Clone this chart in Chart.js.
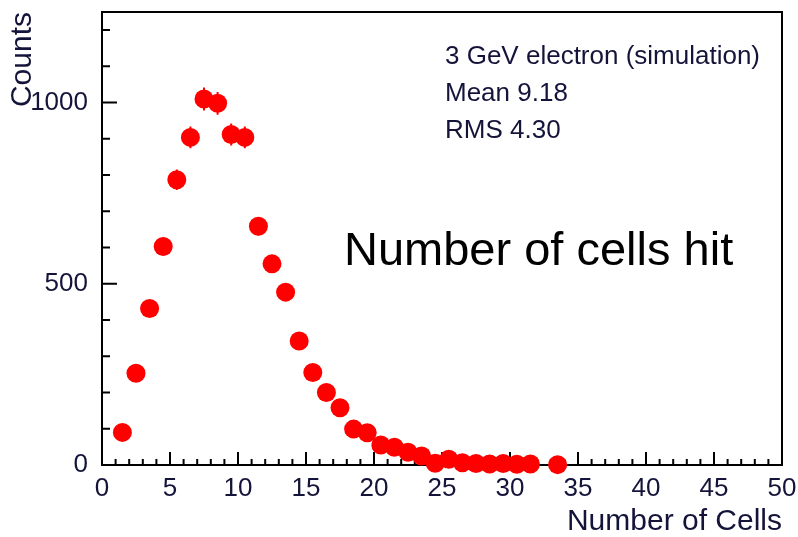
<!DOCTYPE html>
<html>
<head>
<meta charset="utf-8">
<script src="https://cdn.jsdelivr.net/npm/chart.js@4"></script>
<style>
    body { margin: 0; background: #fff; }
    #wrap { width: 798px; height: 537px; position: relative; }
</style>
</head>
<body>
<div id="wrap"><canvas id="cellsChart"></canvas></div>
<script>
// bin centres (number of cells hit) and counts per bin; empty bins are not drawn
const binCenters = [1.5, 2.5, 3.5, 4.5, 5.5, 6.5, 7.5, 8.5, 9.5, 10.5,
    11.5, 12.5, 13.5, 14.5, 15.5, 16.5, 17.5, 18.5, 19.5, 20.5,
    21.5, 22.5, 23.5, 24.5, 25.5, 26.5, 27.5, 28.5, 29.5, 30.5,
    31.5, 33.5];
const counts = [90, 253, 432, 603, 787, 904, 1010, 998, 912, 904,
    659, 555, 477, 342, 255, 200, 158, 99, 89, 55,
    49, 35, 25, 5, 16, 6, 4, 3, 4, 2,
    3, 1];
const xTicks = [0, 5, 10, 15, 20, 25, 30, 35, 40, 45, 50];
const yTicks = [0, 500, 1000];
const statLines = ['3 GeV electron (simulation)', 'Mean 9.18', 'RMS 4.30'];
const overlayText = 'Number of cells hit';

const labelColor = '#14143a';
const fontFamily = '"Liberation Sans", Arial, Helvetica, sans-serif';

// frame + inward tick marks, ROOT style
const framePlugin = {
    id: 'frame',
    beforeDatasetsDraw(chart) {
        const ctx = chart.ctx;
        const area = chart.chartArea;
        const xs = chart.scales.x;
        const ys = chart.scales.y;
        ctx.save();
        ctx.strokeStyle = '#000';
        ctx.lineWidth = 2;
        ctx.strokeRect(area.left, area.top, area.right - area.left, area.bottom - area.top);
        ctx.beginPath();
        for (let v = xs.min; v <= xs.max; v++) {
            const px = xs.getPixelForValue(v);
            const len = v % 5 === 0 ? 13 : 6;
            ctx.moveTo(px, area.bottom);
            ctx.lineTo(px, area.bottom - len);
        }
        for (let v = ys.min; v <= ys.max; v += 100) {
            const py = ys.getPixelForValue(v);
            const len = v % 500 === 0 ? 15 : 8;
            ctx.moveTo(area.left, py);
            ctx.lineTo(area.left + len, py);
        }
        ctx.stroke();
        ctx.restore();
    }
};

// sqrt(N) error bars
const errorBarPlugin = {
    id: 'errorBars',
    afterDatasetsDraw(chart) {
        const ctx = chart.ctx;
        const xs = chart.scales.x;
        const ys = chart.scales.y;
        ctx.save();
        ctx.strokeStyle = '#ff0000';
        ctx.lineWidth = 2;
        ctx.beginPath();
        binCenters.forEach((x, i) => {
            const err = Math.sqrt(counts[i]);
            const px = xs.getPixelForValue(x);
            ctx.moveTo(px, ys.getPixelForValue(counts[i] + err));
            ctx.lineTo(px, ys.getPixelForValue(Math.max(0, counts[i] - err)));
        });
        ctx.stroke();
        ctx.restore();
    }
};

const textPlugin = {
    id: 'texts',
    afterDraw(chart) {
        const ctx = chart.ctx;
        const area = chart.chartArea;
        ctx.save();
        ctx.fillStyle = labelColor;
        ctx.textAlign = 'left';
        ctx.textBaseline = 'alphabetic';
        ctx.font = '26px ' + fontFamily;
        statLines.forEach((t, i) => {
            ctx.fillText(t, area.left + 343, area.top + 52 + i * 37);
        });
        ctx.fillStyle = '#000';
        ctx.font = '47px ' + fontFamily;
        ctx.fillText(overlayText, area.left + 242, area.top + 253);
        ctx.restore();
    }
};

new Chart(document.getElementById('cellsChart'), {
    type: 'scatter',
    data: {
        datasets: [{
            label: 'Counts',
            data: binCenters.map((x, i) => ({ x: x, y: counts[i] })),
            backgroundColor: '#ff0000',
            borderWidth: 0,
            pointRadius: 9.5,
            pointHoverRadius: 9.5,
            clip: false
        }]
    },
    options: {
        responsive: true,
        maintainAspectRatio: false,
        animation: false,
        events: [],
        layout: {
            padding: 0
        },
        scales: {
            x: {
                type: 'linear',
                min: 0,
                max: 50,
                afterBuildTicks: scale => { scale.ticks = xTicks.map(v => ({ value: v })); },
                afterFit: scale => {
                    scale.height = 72;
                    scale.paddingLeft = 0;
                    scale.paddingRight = 16;
                },
                grid: { display: false },
                border: { display: false },
                ticks: {
                    color: labelColor,
                    font: { family: fontFamily, size: 26 },
                    padding: 0,
                    maxRotation: 0,
                    callback: v => String(v)
                },
                title: {
                    display: true,
                    text: 'Number of Cells',
                    align: 'end',
                    color: labelColor,
                    font: { family: fontFamily, size: 30, lineHeight: 1 },
                    padding: { top: 0, bottom: 0 }
                }
            },
            y: {
                type: 'linear',
                min: 0,
                max: 1250,
                afterBuildTicks: scale => { scale.ticks = yTicks.map(v => ({ value: v })); },
                afterFit: scale => {
                    scale.width = 102;
                    scale.paddingTop = 12;
                    scale.paddingBottom = 0;
                },
                grid: { display: false },
                border: { display: false },
                ticks: {
                    color: labelColor,
                    font: { family: fontFamily, size: 26 },
                    padding: 6,
                    callback: v => String(v)
                },
                title: {
                    display: true,
                    text: 'Counts',
                    align: 'end',
                    color: labelColor,
                    font: { family: fontFamily, size: 30, lineHeight: 1 },
                    padding: { top: 8, bottom: 0 }
                }
            }
        },
        plugins: {
            legend: { display: false },
            tooltip: { enabled: false }
        }
    },
    plugins: [framePlugin, errorBarPlugin, textPlugin]
});
</script>
</body>
</html>
